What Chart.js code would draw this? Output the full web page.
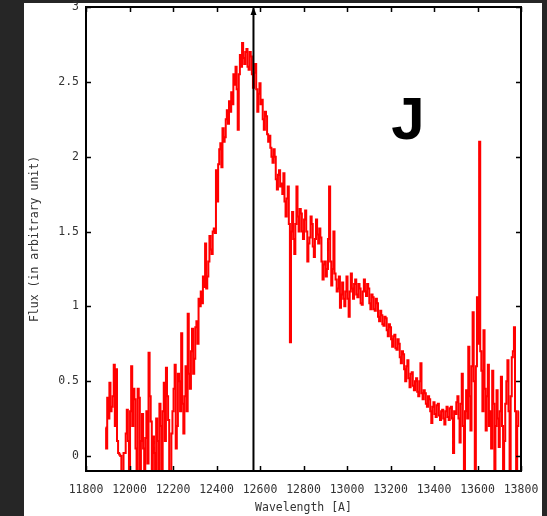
<!DOCTYPE html>
<html>
<head>
<meta charset="utf-8">
<script src="https://cdn.jsdelivr.net/npm/chart.js@4/dist/chart.umd.min.js"></script>
<style>
    html, body { margin: 0; padding: 0; }
    body { width: 547px; height: 516px; background: #262626; position: relative; overflow: hidden; }
    #panel { position: absolute; left: 24px; top: 3px; width: 518px; height: 513px; background: #fff; }
    #spec { position: absolute; left: 0; top: 0; }
</style>
</head>
<body>
<div id="panel"></div>
<canvas id="spec" width="547" height="516"></canvas>
<script>
"use strict";

// J band spectrum, 5 A bins (one row = 100 A)
const wavelengths = [
    11890, 11895, 11900, 11905, 11910, 11915, 11920, 11925, 11930, 11935, 11940, 11945, 11950, 11955, 11960, 11965, 11970, 11975, 11980, 11985,
    11990, 11995, 12000, 12005, 12010, 12015, 12020, 12025, 12030, 12035, 12040, 12045, 12050, 12055, 12060, 12065, 12070, 12075, 12080, 12085,
    12090, 12095, 12100, 12105, 12110, 12115, 12120, 12125, 12130, 12135, 12140, 12145, 12150, 12155, 12160, 12165, 12170, 12175, 12180, 12185,
    12190, 12195, 12200, 12205, 12210, 12215, 12220, 12225, 12230, 12235, 12240, 12245, 12250, 12255, 12260, 12265, 12270, 12275, 12280, 12285,
    12290, 12295, 12300, 12305, 12310, 12315, 12320, 12325, 12330, 12335, 12340, 12345, 12350, 12355, 12360, 12365, 12370, 12375, 12380, 12385,
    12390, 12395, 12400, 12405, 12410, 12415, 12420, 12425, 12430, 12435, 12440, 12445, 12450, 12455, 12460, 12465, 12470, 12475, 12480, 12485,
    12490, 12495, 12500, 12505, 12510, 12515, 12520, 12525, 12530, 12535, 12540, 12545, 12550, 12555, 12560, 12565, 12570, 12575, 12580, 12585,
    12590, 12595, 12600, 12605, 12610, 12615, 12620, 12625, 12630, 12635, 12640, 12645, 12650, 12655, 12660, 12665, 12670, 12675, 12680, 12685,
    12690, 12695, 12700, 12705, 12710, 12715, 12720, 12725, 12730, 12735, 12740, 12745, 12750, 12755, 12760, 12765, 12770, 12775, 12780, 12785,
    12790, 12795, 12800, 12805, 12810, 12815, 12820, 12825, 12830, 12835, 12840, 12845, 12850, 12855, 12860, 12865, 12870, 12875, 12880, 12885,
    12890, 12895, 12900, 12905, 12910, 12915, 12920, 12925, 12930, 12935, 12940, 12945, 12950, 12955, 12960, 12965, 12970, 12975, 12980, 12985,
    12990, 12995, 13000, 13005, 13010, 13015, 13020, 13025, 13030, 13035, 13040, 13045, 13050, 13055, 13060, 13065, 13070, 13075, 13080, 13085,
    13090, 13095, 13100, 13105, 13110, 13115, 13120, 13125, 13130, 13135, 13140, 13145, 13150, 13155, 13160, 13165, 13170, 13175, 13180, 13185,
    13190, 13195, 13200, 13205, 13210, 13215, 13220, 13225, 13230, 13235, 13240, 13245, 13250, 13255, 13260, 13265, 13270, 13275, 13280, 13285,
    13290, 13295, 13300, 13305, 13310, 13315, 13320, 13325, 13330, 13335, 13340, 13345, 13350, 13355, 13360, 13365, 13370, 13375, 13380, 13385,
    13390, 13395, 13400, 13405, 13410, 13415, 13420, 13425, 13430, 13435, 13440, 13445, 13450, 13455, 13460, 13465, 13470, 13475, 13480, 13485,
    13490, 13495, 13500, 13505, 13510, 13515, 13520, 13525, 13530, 13535, 13540, 13545, 13550, 13555, 13560, 13565, 13570, 13575, 13580, 13585,
    13590, 13595, 13600, 13605, 13610, 13615, 13620, 13625, 13630, 13635, 13640, 13645, 13650, 13655, 13660, 13665, 13670, 13675, 13680, 13685,
    13690, 13695, 13700, 13705, 13710, 13715, 13720, 13725, 13730, 13735, 13740, 13745, 13750, 13755, 13760, 13765, 13770, 13775, 13780, 13785,
    13790
];

const flux = [
    0.19, 0.05, 0.39, 0.25, 0.49, 0.3, 0.33, 0.4, 0.61, 0.2, 0.58, 0.1, 0.02, 0.01, 0.0, -0.2, -0.2, 0.02, 0.02, 0.15,
    0.31, 0.1, -0.2, 0.3, 0.6, 0.2, 0.45, 0.38, 0.05, -0.15, 0.45, 0.39, -0.2, 0.1, 0.28, 0.05, -0.15, 0.12, 0.3, -0.05,
    0.69, 0.4, 0.23, -0.1, 0.13, 0.02, -0.2, 0.25, 0.1, -0.15, 0.35, 0.2, -0.2, 0.3, 0.49, 0.1, 0.59, 0.4, 0.24, -0.1,
    -0.15, 0.15, 0.3, 0.45, 0.61, 0.05, 0.2, 0.55, 0.5, 0.3, 0.82, 0.35, 0.15, 0.4, 0.6, 0.3, 0.95, 0.55, 0.45, 0.7,
    0.85, 0.55, 0.65, 0.86, 0.9, 0.75, 1.05, 1.0, 1.1, 1.02, 1.2, 1.13, 1.42, 1.12, 1.2, 1.3, 1.47, 1.38, 1.35, 1.5,
    1.52, 1.49, 1.91, 1.7, 1.95, 2.05, 2.09, 1.93, 2.19, 2.1, 2.13, 2.25, 2.31, 2.22, 2.37, 2.3, 2.43, 2.35, 2.55, 2.48,
    2.6, 2.45, 2.18, 2.55, 2.68, 2.6, 2.76, 2.66, 2.62, 2.7, 2.72, 2.6, 2.58, 2.7, 2.67, 2.55, 2.46, 2.56, 2.62, 2.45,
    2.3, 2.42, 2.49, 2.35, 2.38, 2.25, 2.18, 2.3, 2.27, 2.15, 2.1, 2.14, 2.06, 2.0, 1.96, 2.05, 2.0, 1.85, 1.78, 1.88,
    1.91, 1.8, 1.82, 1.75, 1.89, 1.7, 1.6, 1.72, 1.8, 1.55, 0.76, 1.5, 1.63, 1.45, 1.35, 1.55, 1.8, 1.6, 1.5, 1.65,
    1.62, 1.5, 1.45, 1.58, 1.64, 1.5, 1.3, 1.42, 1.46, 1.6, 1.55, 1.4, 1.33, 1.45, 1.58, 1.48, 1.42, 1.52, 1.46, 1.3,
    1.18, 1.28, 1.3, 1.2, 1.25, 1.45, 1.8, 1.3, 1.14, 1.25, 1.5, 1.22, 1.18, 1.1, 1.12, 1.2, 0.99, 1.08, 1.16, 1.05,
    1.0, 1.1, 1.2, 1.05, 0.93, 1.1, 1.22, 1.12, 1.05, 1.15, 1.18, 1.08, 1.06, 1.15, 1.12, 1.02, 1.01, 1.1, 1.18, 1.1,
    1.07, 1.15, 1.12, 1.02, 0.98, 1.08, 1.06, 0.98, 0.97, 1.05, 1.02, 0.93, 0.9, 0.97, 0.94, 0.88, 0.87, 0.93, 0.92, 0.84,
    0.8, 0.88, 0.86, 0.78, 0.73, 0.8, 0.81, 0.72, 0.71, 0.78, 0.75, 0.66, 0.62, 0.7, 0.68, 0.58, 0.5, 0.6, 0.64, 0.52,
    0.46, 0.55, 0.56, 0.47, 0.44, 0.5, 0.52, 0.43, 0.4, 0.5, 0.62, 0.42, 0.38, 0.44, 0.42, 0.35, 0.33, 0.4, 0.38, 0.3,
    0.22, 0.33, 0.36, 0.28, 0.26, 0.34, 0.35, 0.27, 0.24, 0.3, 0.31, 0.25, 0.21, 0.3, 0.33, 0.26, 0.24, 0.32, 0.33, 0.25,
    0.02, 0.3, 0.28, 0.36, 0.4, 0.25, 0.09, 0.35, 0.55, 0.2, -0.15, 0.3, 0.44, 0.25, 0.73, 0.4, 0.17, 0.6, 0.96, 0.5,
    -0.15, 0.6, 1.06, 0.75, 2.1, 0.7, 0.57, 0.3, 0.84, 0.45, 0.17, 0.4, 0.61, 0.2, 0.3, 0.05, 0.57, 0.35, -0.15, 0.2,
    0.44, 0.25, 0.06, 0.3, 0.53, 0.2, -0.15, 0.1, 0.35, 0.5, 0.64, 0.3, -0.15, 0.4, 0.66, 0.7, 0.86, 0.3, -0.1, 0.2,
    0.3
];

const xTicks = [11800, 12000, 12200, 12400, 12600, 12800, 13000, 13200, 13400, 13600, 13800];
const yTicks = [0, 0.5, 1, 1.5, 2, 2.5, 3];

// vertical marker with arrow
const markerX = [12570, 12570];
const markerY = [-0.1, 3];

// band label
const bandLabel = "J";
const bandLabelPos = [13280, 2.12];

const tickFont = { family: "'DejaVu Sans Mono', monospace", size: 11.5 };
const tickColor = "#333";

// inward ticks on all four sides, frame and arrowhead
const framePlugin = {
    id: "frame",
    afterDatasetsDraw(chart) {
        const {ctx, chartArea: a, scales: {x, y}} = chart;
        const len = 5;
        ctx.save();
        ctx.strokeStyle = "#000";
        ctx.lineWidth = 1.5;
        ctx.beginPath();
        x.ticks.forEach(t => {
            const px = Math.round(x.getPixelForValue(t.value)) + 0.5;
            ctx.moveTo(px, a.bottom); ctx.lineTo(px, a.bottom - len);
            ctx.moveTo(px, a.top); ctx.lineTo(px, a.top + len);
        });
        y.ticks.forEach(t => {
            const py = Math.round(y.getPixelForValue(t.value)) + 0.5;
            ctx.moveTo(a.left, py); ctx.lineTo(a.left + len, py);
            ctx.moveTo(a.right, py); ctx.lineTo(a.right - len, py);
        });
        ctx.stroke();

        ctx.lineWidth = 2;
        ctx.strokeRect(a.left, a.top, a.right - a.left, a.bottom - a.top);

        // arrow tip
        const ax = x.getPixelForValue(markerX[1]);
        const ay = y.getPixelForValue(markerY[1]);
        ctx.fillStyle = "#000";
        ctx.beginPath();
        ctx.moveTo(ax, ay);
        ctx.lineTo(ax - 3, ay + 8);
        ctx.lineTo(ax + 3, ay + 8);
        ctx.closePath();
        ctx.fill();

        ctx.font = "bold 60px 'Liberation Sans', Arial, sans-serif";
        ctx.textAlign = "center";
        ctx.textBaseline = "alphabetic";
        ctx.fillText(bandLabel, x.getPixelForValue(bandLabelPos[0]), y.getPixelForValue(bandLabelPos[1]));
        ctx.restore();
    }
};

new Chart(document.getElementById("spec"), {
    type: "line",
    data: {
        datasets: [{
            data: wavelengths.map((w, i) => ({x: w, y: flux[i]})),
            borderColor: "#f00",
            borderWidth: 2,
            stepped: "middle",
            pointRadius: 0,
            fill: false,
            order: 2
        }, {
            data: markerX.map((w, i) => ({x: w, y: markerY[i]})),
            borderColor: "#000",
            borderWidth: 2,
            pointRadius: 0,
            fill: false,
            order: 1
        }]
    },
    plugins: [framePlugin],
    options: {
        responsive: false,
        animation: false,
        devicePixelRatio: 1,
        layout: { padding: { left: 24, top: 7, right: 26, bottom: 0 } },
        plugins: { legend: { display: false }, tooltip: { enabled: false } },
        scales: {
            x: {
                type: "linear",
                min: 11800,
                max: 13800,
                grid: { display: false, drawTicks: false },
                border: { display: false },
                afterBuildTicks: s => { s.ticks = xTicks.map(v => ({value: v})); },
                afterFit: s => { s.height = 45; s.paddingLeft = 0; s.paddingRight = 0; },
                ticks: {
                    padding: 12,
                    maxRotation: 0,
                    autoSkip: false,
                    color: tickColor,
                    font: tickFont,
                    callback: v => String(v)
                },
                title: {
                    display: true,
                    text: "Wavelength [A]",
                    color: tickColor,
                    font: tickFont,
                    padding: { top: 0, bottom: 1 }
                }
            },
            y: {
                min: -0.1,
                max: 3,
                grid: { display: false, drawTicks: false },
                border: { display: false },
                afterBuildTicks: s => { s.ticks = yTicks.map(v => ({value: v})); },
                afterFit: s => { s.width = 62; s.paddingTop = 0; s.paddingBottom = 0; },
                ticks: {
                    padding: 7,
                    color: tickColor,
                    font: tickFont,
                    callback: v => String(v)
                },
                title: {
                    display: true,
                    text: "Flux (in arbitrary unit)",
                    color: tickColor,
                    font: tickFont,
                    padding: { top: 4, bottom: 0 }
                }
            }
        }
    }
});
</script>
</body>
</html>
